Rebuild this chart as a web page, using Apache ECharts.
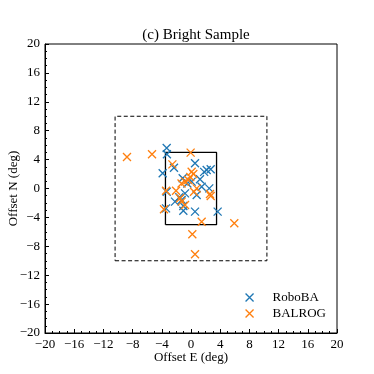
<!DOCTYPE html>
<html><head><meta charset="utf-8">
<script src="https://cdn.jsdelivr.net/npm/echarts@6/dist/echarts.min.js"></script>
<style>html,body{margin:0;padding:0;background:#fff}#c{width:374px;height:374px}</style>
</head><body><div id="c"></div>
<script>
const titleText = "(c) Bright Sample";
const xName = "Offset E (deg)";
const yName = "Offset N (deg)";
const seriesNames = ["RoboBA", "BALROG"];
const robobaPoints = [
  [-3.33,5.6],[-3.3,4.75],[-3.88,2.1],[-2.33,2.88],[0.55,3.49],[2.15,2.56],[2.7,2.66],[1.8,2.3],
  [-1.14,1.41],[1.23,1.27],[0.09,0.95],[-0.5,0.7],[1.46,0.25],[2.5,0.02],[-3.33,-0.44],[-0.82,-0.67],
  [0.78,-0.9],[-2.19,-1.82],[-1.28,-1.59],[-3.42,-2.75],[-1.05,-2.42],[-1.05,-3.07],[0.55,-3.2],[3.65,-3.2],
  [-1.6,-1.2]
];
const balrogPoints = [
  [-8.77,4.36],[-5.34,4.73],[-0.05,4.96],[-2.55,3.34],[0.09,2.33],[0.32,2.0],[-0.37,1.18],[-0.82,0.95],
  [-0.1,1.6],[-1.3,0.7],[-3.42,-0.3],[-2.05,-0.3],[0.78,0.02],[0.41,-0.44],[2.6,-0.76],[2.7,-1.04],
  [-1.5,-1.36],[-1.28,-1.82],[-0.82,-2.28],[-3.7,-2.88],[1.46,-4.6],[5.93,-4.82],[0.18,-6.34],[0.55,-9.1]
];
const innerBox = [[-3.5,-5],[3.5,-5],[3.5,5],[-3.5,5],[-3.5,-5]];
const outerBox = [[-10.4,-10],[10.4,-10],[10.4,10],[-10.4,10],[-10.4,-10]];
const axisMin = -20, axisMax = 20, axisStep = 4;

const colors = ["#1f77b4", "#ff7f0e"];
const xSym = 'path://M0,0L10,10M10,0L0,10';
const font = '"Liberation Serif","DejaVu Serif",serif';
const fmt = v => String(v).replace('-', '\u2212');

function axis(name, gap) {
  return {
    type: 'value', min: axisMin, max: axisMax, interval: axisStep,
    name: name, nameLocation: 'middle', nameGap: gap, nameMoveOverlap: false,
    nameTextStyle: {fontFamily: font, fontSize: 13, color: '#000'},
    axisLine: {show: true, onZero: false, lineStyle: {color: '#000', width: 1}},
    axisTick: {show: true, inside: true, length: 4, lineStyle: {color: '#000'}},
    minorTick: {show: true, splitNumber: 4, length: 2, lineStyle: {color: '#000'}},
    axisLabel: {fontFamily: font, fontSize: 13, color: '#000', formatter: fmt, margin: 5},
    splitLine: {show: false}
  };
}

const chart = echarts.init(document.getElementById('c'), null, {renderer: 'canvas'});
chart.setOption({
  animation: false,
  backgroundColor: '#fff',
  title: {text: titleText, left: 191, top: 23, textAlign: 'center',
    textStyle: {fontFamily: font, fontSize: 15, fontWeight: 'normal', color: '#000'}},
  grid: {left: 45, right: 37, top: 44, bottom: 41, show: true, borderColor: '#000', borderWidth: 1,
    containLabel: false, outerBoundsMode: 'none'},
  xAxis: axis(xName, 18),
  yAxis: axis(yName, 25),
  legend: {
    data: seriesNames.map((n, i) => ({name: n, icon: xSym, itemStyle: {color: 'none', borderColor: colors[i], borderWidth: 1.3}})),
    orient: 'vertical', right: 43, bottom: 49, itemWidth: 8, itemHeight: 8, itemGap: 3,
    textStyle: {fontFamily: font, fontSize: 13, color: '#000', padding: [0,0,0,14]}
  },
  series: [
    {type: 'line', data: outerBox, symbol: 'none', silent: true, lineStyle: {color: '#000', width: 1, type: [4, 2.5]}, z: 1},
    {type: 'line', data: innerBox, symbol: 'none', silent: true, lineStyle: {color: '#000', width: 1.3}, z: 1},
    {name: seriesNames[0], type: 'scatter', data: robobaPoints, symbol: xSym, symbolSize: 8,
      itemStyle: {color: 'none', borderColor: colors[0], borderWidth: 1.3, opacity: 1}, z: 3},
    {name: seriesNames[1], type: 'scatter', data: balrogPoints, symbol: xSym, symbolSize: 8,
      itemStyle: {color: 'none', borderColor: colors[1], borderWidth: 1.3, opacity: 1}, z: 4}
  ]
});
</script></body></html>
